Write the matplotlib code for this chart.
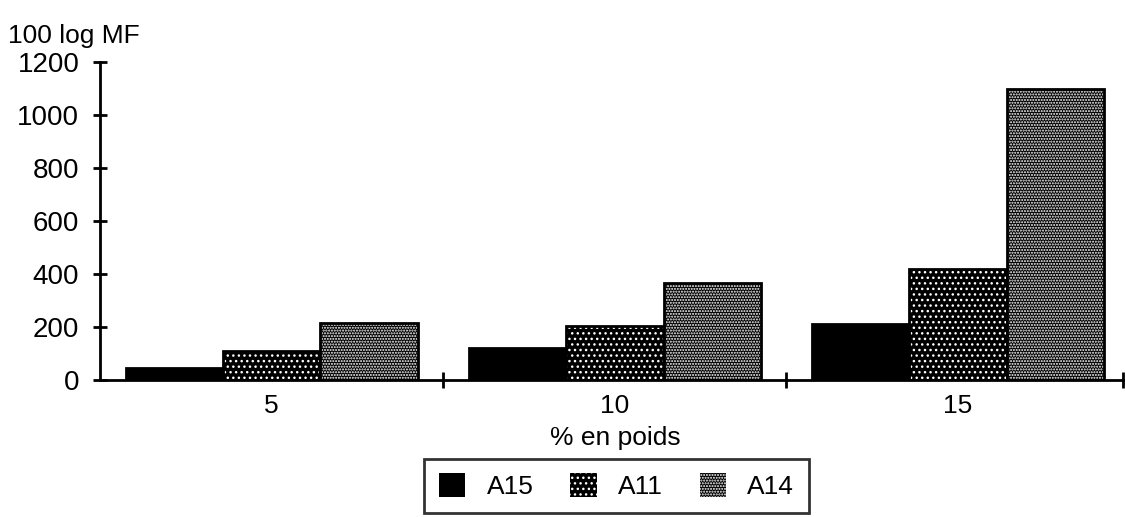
import numpy as np
import matplotlib
matplotlib.use('Agg')
import matplotlib.pyplot as plt
from matplotlib.patches import Patch

# values
groups = ['5', '10', '15']
series = ['A15', 'A11', 'A14']
a15 = [45, 120, 210]
a11 = [110, 205, 420]
a14 = [215, 365, 1100]
hatches = ['', '...', '......']

plt.rcParams['font.family'] = ['Liberation Sans', 'DejaVu Sans']
plt.rcParams['hatch.color'] = 'white'
plt.rcParams['hatch.linewidth'] = 1.0

fig = plt.figure(figsize=(11.25, 5.17), dpi=100)
ax = fig.add_axes([0.089, 0.265, 0.915, 0.615])

x = np.arange(len(groups))
w = 0.284
vals = [a15, a11, a14]
for i, (v, h) in enumerate(zip(vals, hatches)):
    pos = x + (i - 1) * w
    ax.bar(pos, v, width=w, color='black', edgecolor='white', hatch=h, linewidth=0)
    ax.bar(pos, v, width=w, fill=False, edgecolor='black', linewidth=2)

ax.set_xlim(-0.5, 2.5)
ax.set_ylim(0, 1200)
ax.set_yticks(np.arange(0, 1201, 200))
ax.set_xticks(x)
ax.set_xticklabels(groups)
ax.set_xticks([0.5, 1.5, 2.48], minor=True)
ax.tick_params(axis='x', which='major', length=0, labelsize=19, pad=10)
ax.tick_params(axis='x', which='minor', direction='inout', length=12, width=2)
ax.tick_params(axis='y', direction='inout', length=10, width=2, labelsize=20, pad=10)
for s in ['top', 'right']:
    ax.spines[s].set_visible(False)
for s in ['left', 'bottom']:
    ax.spines[s].set_linewidth(2)
ax.set_xlabel('% en poids', fontsize=19, labelpad=6)
fig.text(0.007, 0.93, '100 log MF', fontsize=19, ha='left', va='center')

handles = [Patch(facecolor='black', edgecolor='white', hatch=h, linewidth=0) for h in hatches]
leg = fig.legend(handles, series, ncol=3, loc='center', bbox_to_anchor=(0.548, 0.06),
                 fontsize=19, frameon=True, fancybox=False, edgecolor='black',
                 handlelength=1.0, handleheight=1.0, columnspacing=1.4, handletextpad=0.8,
                 borderpad=0.55)
leg.get_frame().set_linewidth(2)

fig.savefig('out.png', dpi=100)
